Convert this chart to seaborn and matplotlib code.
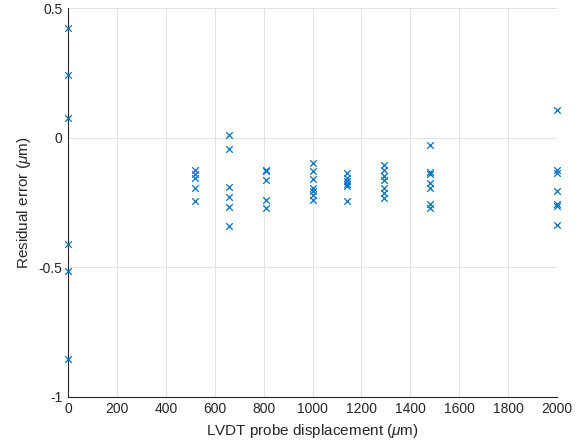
import numpy as np
import pandas as pd
import seaborn as sns
from matplotlib import pyplot as plt

# Positions du palpeur LVDT (um) et erreurs residuelles
displacement = [0, 520, 660, 810, 1000, 1140, 1290, 1480, 2000]
residuals = [
    [0.423, 0.241, 0.074, -0.41, -0.515, -0.855],
    [-0.126, -0.142, -0.157, -0.196, -0.245],
    [0.01, -0.045, -0.191, -0.229, -0.268, -0.341],
    [-0.123, -0.129, -0.165, -0.242, -0.273],
    [-0.096, -0.129, -0.16, -0.196, -0.206, -0.222, -0.24],
    [-0.136, -0.155, -0.168, -0.178, -0.188, -0.245],
    [-0.107, -0.126, -0.146, -0.165, -0.193, -0.213, -0.232],
    [-0.03, -0.132, -0.139, -0.174, -0.193, -0.257, -0.273],
    [0.106, -0.125, -0.138, -0.206, -0.257, -0.265, -0.338],
]
xticks = [0, 200, 400, 600, 800, 1000, 1200, 1400, 1600, 1800, 2000]
yticks = [-1, -0.5, 0, 0.5]
ytick_labels = ["-1", "-0.5", "0", "0.5"]

df = pd.DataFrame({
    "x": [d for d, r in zip(displacement, residuals) for _ in r],
    "y": [v for r in residuals for v in r],
})

sns.set_style("white")
plt.rcParams['font.family'] = ['Liberation Sans', 'DejaVu Sans']
plt.rcParams['mathtext.fontset'] = 'custom'
plt.rcParams['mathtext.it'] = 'Liberation Sans:italic'

fig = plt.figure(figsize=(5.81, 4.46), dpi=100)
ax = fig.add_axes([0.117, 0.110, 0.842, 0.872])

sns.scatterplot(data=df, x="x", y="y", marker="x", color="#0072BD",
                s=22, linewidth=0.9, ax=ax, clip_on=False, zorder=3)

ax.set_xlim(0, 2000)
ax.set_ylim(-1, 0.5)
ax.set_xticks(xticks)
ax.set_xticklabels([str(t) for t in xticks])
ax.set_yticks(yticks)
ax.set_yticklabels(ytick_labels)
ax.grid(True, color="#e3e3e3", linewidth=0.7)
ax.set_axisbelow(True)

for s in ["top", "right"]:
    ax.spines[s].set_visible(False)
for s in ["left", "bottom"]:
    ax.spines[s].set_color("#262626")
    ax.spines[s].set_linewidth(0.8)

ax.tick_params(direction="in", length=4, width=0.6, colors="#262626",
               labelsize=10, pad=4)
ax.set_xlabel(r"LVDT probe displacement ($\mu$m)", fontsize=11, color="#262626")
ax.set_ylabel(r"Residual error ($\mu$m)", fontsize=11, color="#262626")

fig.savefig("out.png", dpi=100)
